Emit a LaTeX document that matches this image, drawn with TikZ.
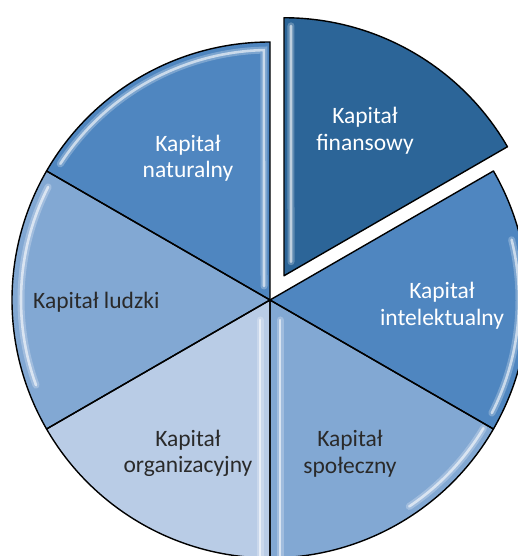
\documentclass[tikz,border=0pt]{standalone}
\usepackage{fontspec}
\setmainfont{Carlito}
\usetikzlibrary{calc}
\definecolor{colFin}{HTML}{2C6598}
\definecolor{colNat}{HTML}{4F86C0}
\definecolor{colLud}{HTML}{82A8D3}
\definecolor{colOrg}{HTML}{B9CCE6}
\definecolor{txtDark}{HTML}{2A2A2A}
\begin{document}
\begin{tikzpicture}[x=1pt,y=1pt,
  outline/.style={draw=black,line width=1.4pt,line join=round},
  hlsoft/.style={draw=white,line width=7pt,opacity=0.25,line cap=round},
  hlhard/.style={draw=white,line width=2.6pt,opacity=0.6,line cap=round},
  lbl/.style={font=\fontsize{23.5}{26.5}\selectfont,align=center,inner sep=0pt},
  ]
\useasboundingbox (0,0) rectangle (518,556);
\clip (0,0) rectangle (518,556);
\coordinate (C) at (270,256);
\coordinate (F) at ($(C)+(60:28)$);
% fills
\fill[colFin] (F) -- ++(30:258) arc[start angle=30,end angle=90,radius=258] -- cycle;
\fill[colNat] (C) -- ++(90:258) arc[start angle=90,end angle=150,radius=258] -- cycle;
\fill[colLud] (C) -- ++(150:258) arc[start angle=150,end angle=210,radius=258] -- cycle;
\fill[colOrg] (C) -- ++(210:258) arc[start angle=210,end angle=270,radius=258] -- cycle;
\fill[colLud] (C) -- ++(270:258) arc[start angle=270,end angle=330,radius=258] -- cycle;
\fill[colNat] (C) -- ++(330:258) arc[start angle=330,end angle=390,radius=258] -- cycle;
% highlights (bevel)
\foreach \s in {hlsoft,hlhard}{
  \draw[\s] ($(C)+(-6,14)$) -- ($(C)+(91.4:250)$) arc[start angle=91.4,end angle=147,radius=250];
  \draw[\s] ($(F)+(7,14)$) -- ($(F)+(88.4:250)$);
  \draw[\s] ($(C)+(153:249)$) arc[start angle=153,end angle=200,radius=249];
  \draw[\s] ($(C)+(-10,-20)$) -- ($(C)+(-10,-262)$);
  \draw[\s] ($(C)+(10,-20)$) -- ($(C)+(10,-262)$);
  \draw[\s] ($(C)+(-31:249)$) arc[start angle=-31,end angle=-56,radius=249];
  \draw[\s] ($(C)+(-27:249)$) arc[start angle=-27,end angle=14,radius=249];
}
% outlines
\draw[outline] (F) -- ++(30:258) arc[start angle=30,end angle=90,radius=258] -- cycle;
\draw[outline] (C) -- ++(90:258) arc[start angle=90,end angle=150,radius=258] -- cycle;
\draw[outline] (C) -- ++(150:258) arc[start angle=150,end angle=210,radius=258] -- cycle;
\draw[outline] (C) -- ++(210:258) arc[start angle=210,end angle=270,radius=258] -- cycle;
\draw[outline] (C) -- ++(270:258) arc[start angle=270,end angle=330,radius=258] -- cycle;
\draw[outline] (C) -- ++(330:258) arc[start angle=330,end angle=390,radius=258] -- cycle;
% labels
\node[lbl,text=white] (tFin) at (365,425.5) {Kapitał\\finansowy};
\node[lbl,text=white] (tNat) at (188,398) {Kapitał\\naturalny};
\node[lbl,text=white] (tInt) at (442,250.5) {Kapitał\\intelektualny};
\node[lbl,text=txtDark,anchor=base west] (tLud) at (33,247) {Kapitał ludzki};
\node[lbl,text=txtDark] (tOrg) at (188,102.5) {Kapitał\\organizacyjny};
\node[lbl,text=txtDark] (tSpo) at (350,102.5) {Kapitał\\społeczny};
\end{tikzpicture}
\end{document}
